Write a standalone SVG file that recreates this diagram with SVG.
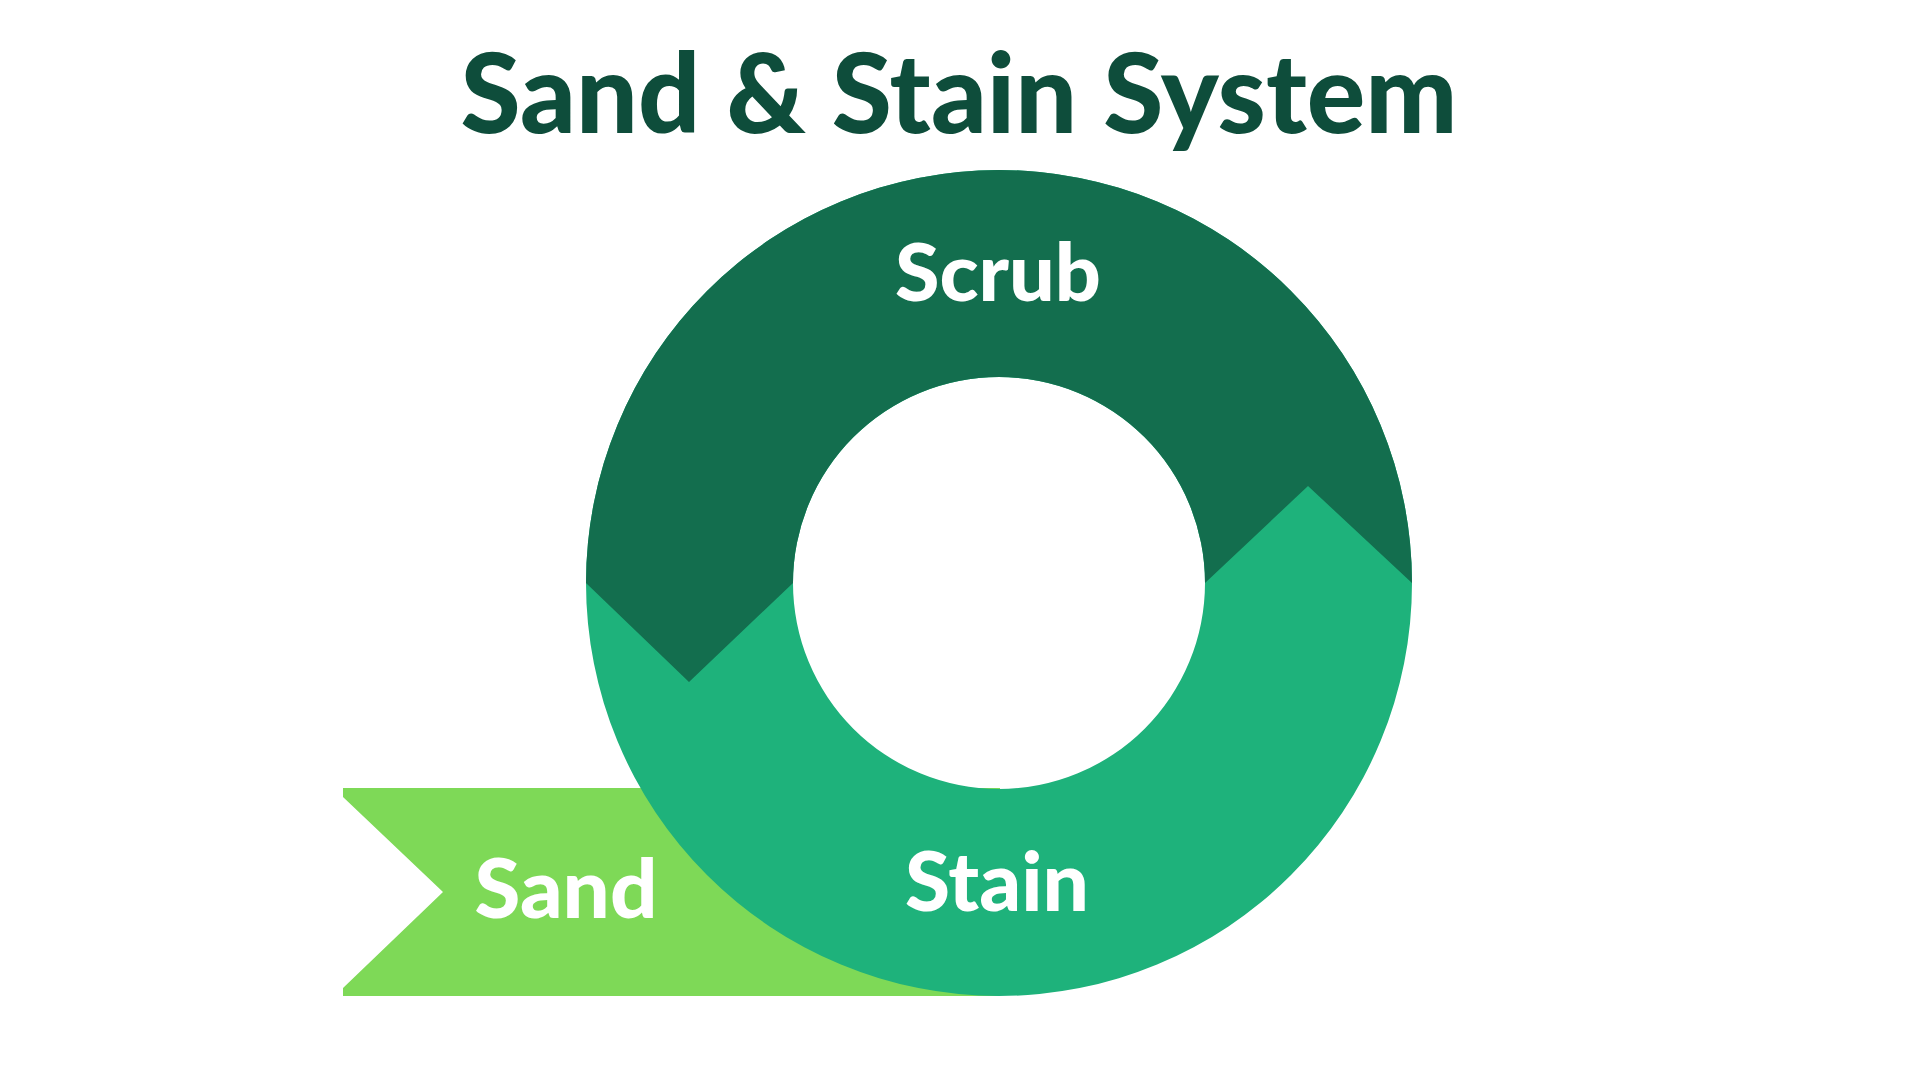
<svg xmlns="http://www.w3.org/2000/svg" width="1920" height="1080" viewBox="0 0 1920 1080">
<style>
.lbl{font-family:Lato,"Liberation Sans",sans-serif;font-weight:900;fill:#FFFFFF;text-anchor:middle}
.title{font-family:Lato,"Liberation Sans",sans-serif;font-weight:900;fill:#0E4D3B;text-anchor:middle}
</style>
<defs>
<clipPath id="ringClip">
<path clip-rule="evenodd" d="M586,583 A413,413 0 1,0 1412,583 A413,413 0 1,0 586,583 Z M793,583 A206,206 0 1,0 1205,583 A206,206 0 1,0 793,583 Z"/>
</clipPath>
</defs>
<rect width="1920" height="1080" fill="#FFFFFF"/>
<text id="title" class="title" x="959" y="133" font-size="110" textLength="997" lengthAdjust="spacingAndGlyphs">Sand &amp; Stain System</text>
<g id="sand">
<polygon points="343,788 1000,788 1000,996 343,996 343,988 443,892 343,797" fill="#7ED957"/>
<text class="lbl" x="566" y="918" font-size="82" textLength="183" lengthAdjust="spacingAndGlyphs">Sand</text>
</g>
<g id="stain">
<path fill="#1EB27B" fill-rule="evenodd" d="M586,583 A413,413 0 1,0 1412,583 A413,413 0 1,0 586,583 Z M793,583 A206,206 0 1,0 1205,583 A206,206 0 1,0 793,583 Z"/>
<text class="lbl" x="997" y="911" font-size="82" textLength="184" lengthAdjust="spacingAndGlyphs">Stain</text>
</g>
<g id="scrub">
<polygon clip-path="url(#ringClip)" fill="#136E4E" points="560,583 586,583 689,682 793,583 1205,583 1308,486 1412,583 1440,583 1440,150 560,150"/>
<text class="lbl" x="998" y="301" font-size="80" textLength="206" lengthAdjust="spacingAndGlyphs">Scrub</text>
</g>
<g id="connectors"/>
</svg>
